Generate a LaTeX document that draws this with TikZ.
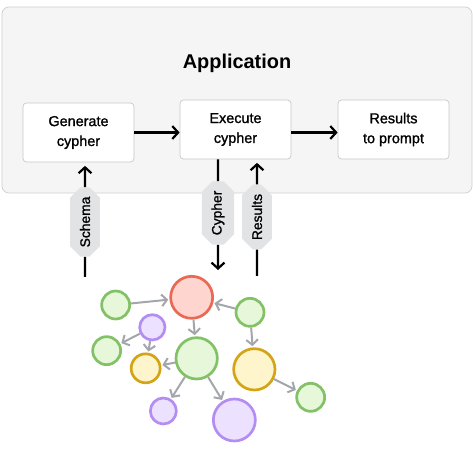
\documentclass[tikz,border=0pt]{standalone}
\usepackage{fontspec}
\setmainfont{Liberation Sans}
\newfontfamily\medfont{Liberation Sans}[FakeBold=1.2]
\usepackage{xcolor}
\usetikzlibrary{arrows.meta, positioning, shapes.misc}

\definecolor{appfill}{HTML}{F5F5F5}
\definecolor{appline}{HTML}{CFCFCF}
\definecolor{boxline}{HTML}{C8C8C8}
\definecolor{tagfill}{HTML}{E2E3E5}
\definecolor{edgegray}{HTML}{A3A6AB}
\definecolor{grline}{HTML}{82C165}
\definecolor{grfill}{HTML}{E6F7DA}
\definecolor{puline}{HTML}{B38DF2}
\definecolor{pufill}{HTML}{ECE2FF}
\definecolor{yeline}{HTML}{D4A417}
\definecolor{yefill}{HTML}{FFF5CC}
\definecolor{reline}{HTML}{E86A55}
\definecolor{refill}{HTML}{FFD5CF}

\begin{document}
\begin{tikzpicture}[
      font=\medfont\fontsize{12.3}{17}\selectfont,
      box/.style={draw=boxline, fill=white, rounded corners=3pt, line width=0.6pt,
                  minimum width=3.33cm, minimum height=1.77cm, align=center},
      flow/.style={line width=1.9pt, -{Straight Barb[length=5pt,width=11pt]}},
      wire/.style={line width=1.9pt},
      tag/.style={chamfered rectangle, chamfered rectangle xsep=4pt,
                  chamfered rectangle ysep=5pt, fill=tagfill, rotate=90,
                  minimum height=0.66cm, inner xsep=4pt,
                  font=\medfont\fontsize{11.8}{13}\selectfont},
      vert/.style={circle, line width=2.3pt, inner sep=0pt},
      gv/.style={vert, draw=grline, fill=grfill},
      pv/.style={vert, draw=puline, fill=pufill},
      yv/.style={vert, draw=yeline, fill=yefill},
      rv/.style={vert, draw=reline, fill=refill},
      link/.style={draw=edgegray, line width=1.7pt, shorten >=1pt,
                   -{Straight Barb[length=4.5pt,width=10pt]}},
    ]
    \useasboundingbox (0,0) rectangle (14.19,-13.86);

    % application frame
    \node[draw=appline, fill=appfill, rounded corners=6pt, line width=0.6pt,
          minimum width=14.1cm, minimum height=5.58cm] (app) at (7.11,-3.0) {};
    \node[font=\fontsize{17}{20}\selectfont\bfseries] (title) at (7.11,-1.89) {Application};

    \node[box] (gen) at (2.355,-3.975) {Generate\\cypher};
    \node[box] (exe) at (7.065,-3.885) {Execute\\cypher};
    \node[box] (res) at (11.805,-3.885) {Results\\to prompt};
    \draw[flow] (gen.east) -- (gen.east -| exe.west);
    \draw[flow] (exe.east |- gen.east) -- (res.west |- gen.east);

    % graph interface
    \node[tag] (lschema)  at (2.55,-6.66) {Schema};
    \node[tag] (lcypher)  at (6.54,-6.39) {Cypher};
    \node[tag] (lresults) at (7.71,-6.51) {Results};
    \coordinate (schemafoot)  at (2.55,-8.31);
    \coordinate (cypherfoot)  at (6.54,-8.10);
    \coordinate (resultsfoot) at (7.71,-8.28);
    \draw[wire] (schemafoot) -- (lschema);
    \draw[flow, shorten >=3pt] (lschema) -- (lschema |- gen.south);
    \draw[wire] (lcypher |- exe.south) -- (lcypher);
    \draw[flow] (lcypher) -- (cypherfoot);
    \draw[wire] (resultsfoot) -- (lresults);
    \draw[flow, shorten >=3pt] (lresults) -- (lresults |- exe.south);

    % knowledge graph
    \node[rv, minimum size=1.26cm] (red) at (5.75,-8.92) {};
    \node[gv, minimum size=0.84cm] (ga)  at (3.47,-9.15) {};
    \node[pv, minimum size=0.76cm] (pa)  at (4.57,-9.82) {};
    \node[gv, minimum size=0.84cm] (gb)  at (3.20,-10.52) {};
    \node[yv, minimum size=0.87cm] (ya)  at (4.37,-11.05) {};
    \node[gv, minimum size=1.24cm] (gc)  at (5.90,-10.75) {};
    \node[gv, minimum size=0.84cm] (gd)  at (7.50,-9.37) {};
    \node[yv, minimum size=1.24cm] (yb)  at (7.63,-11.08) {};
    \node[gv, minimum size=0.84cm] (ge)  at (9.32,-11.92) {};
    \node[pv, minimum size=0.78cm] (pb)  at (4.90,-12.33) {};
    \node[pv, minimum size=1.26cm] (pc)  at (7.03,-12.60) {};

    \draw[link] (ga) -- (red);
    \draw[link] (gd) -- (red);
    \draw[link] (red) -- (gc);
    \draw[link] (pa) -- (gb);
    \draw[link] (pa) -- (ya);
    \draw[link] (gc) -- (ya);
    \draw[link] (gc) -- (pb);
    \draw[link] (gc) -- (pc);
    \draw[link] (gd) -- (yb);
    \draw[link] (yb) -- (ge);
  \end{tikzpicture}
\end{document}
